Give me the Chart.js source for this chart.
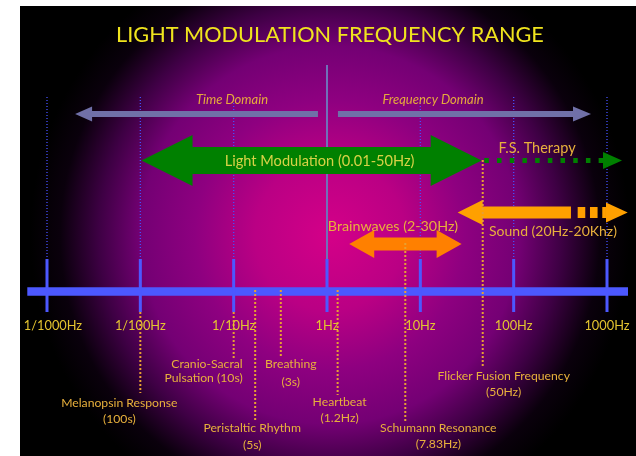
<!DOCTYPE html>
<html><head><meta charset="utf-8">
<script src="https://cdn.jsdelivr.net/npm/chart.js@4.4.1/dist/chart.umd.min.js"></script>
<style>html,body{margin:0;padding:0;background:#fff;overflow:hidden}#wrap{width:636px;height:456px}</style>
</head><body><div id="wrap"><canvas id="c" width="636" height="456"></canvas></div>
<script>
// ---------- DATA (frequencies in Hz) ----------
const title = 'LIGHT MODULATION FREQUENCY RANGE';
const tickValues = [0.001, 0.01, 0.1, 1, 10, 100, 1000];
const tickLabels = ['1/1000Hz', '1/100Hz', '1/10Hz', '1Hz', '10Hz', '100Hz', '1000Hz'];
const axisRange = [0.000615, 1679];

const domainNames = ['Time Domain', 'Frequency Domain'];
const timeDomainRange = [0.002, 0.80];
const freqDomainRange = [1.31, 674];

const lightModName = 'Light Modulation (0.01-50Hz)';
const lightModRange = [0.0103, 45.4];
const fsTherapyName = 'F.S. Therapy';
const fsTherapyRange = [48.5, 906, 1448];   // dots start, dots end, arrow tip

const brainName = 'Brainwaves (2-30Hz)';
const brainRange = [1.73, 27.7];
const soundName = 'Sound (20Hz-20Khz)';
const soundRange = [25.1, 411, 485, 975, 1667]; // tip, solid end, dots start, dots end, tip

const annotLine1 = ['Melanopsin Response', 'Cranio-Sacral', 'Peristaltic Rhythm', 'Breathing', 'Heartbeat', 'Schumann Resonance', 'Flicker Fusion Frequency'];
const annotLine2 = ['(100s)', 'Pulsation (10s)', '(5s)', '(3s)', '(1.2Hz)', '(7.83Hz)', '(50Hz)'];
const annotFreqs = [0.01, 0.1, 0.17, 0.32, 1.3, 6.9, 46.6];

// ---------- LAYOUT (rows in canvas-y units, styles) ----------
const ROW = {domain: 114, domainLabel: 100, light: 160.5, fsLabel: 148, sound: 212.5, soundLabel: 231.7,
  brain: 244, brainLabel: 226, bar: 291.5, tickTop: 259, tickBot: 312, tickLabel: 326, guideTop: 97, oneHzTop: 65};
const annotSpan = [[312, 393], [312, 358], [290, 420], [290, 358], [290, 395], [243, 421], [160, 368]];
const annotLabelDx = [-21, 9, -3, 10, 2, 33, 21];
const annotLabelY = [[402.7, 419.3], [364.3, 377.7], [427.7, 445], [364.3, 381.7], [401.7, 417.7], [428.3, 444.3], [375.7, 391.7]];
const annotAlign = ['center', 'right', 'center', 'center', 'center', 'center', 'center'];

const FONT = 'Lato, "Open Sans", sans-serif';
const BLUE = 'rgb(76,88,255)';
const GOLD = 'rgb(232,176,60)';
const ORANGE_DOT = 'rgb(232,160,50)';

function seg(xs, y1, y2) { const d = []; xs.forEach(x => { d.push({x, y: y1}, {x, y: y2}, {x, y: null}); }); return d; }
function lineDS(data, color, width, dash, order) {
  return {type: 'scatter', data, showLine: true, borderColor: color, borderWidth: width, borderDash: dash || [],
    borderCapStyle: 'butt', pointRadius: 0, clip: false, spanGaps: false, order, fill: false};
}

const guideVals = tickValues.filter(v => v !== 1);
const datasets = [
  lineDS(annotFreqs.flatMap((f, i) => [{x: f, y: annotSpan[i][0]}, {x: f, y: annotSpan[i][1]}, {x: f, y: null}]), ORANGE_DOT, 2, [2, 2], 1),
  lineDS([{x: fsTherapyRange[0], y: ROW.light}, {x: fsTherapyRange[1], y: ROW.light}], 'rgb(0,128,0)', 5, [4.5, 8.2], 2),
  lineDS([{x: soundRange[2], y: ROW.sound}, {x: soundRange[3], y: ROW.sound}], 'rgb(255,160,0)', 11, [7.6, 4.7], 2),
  lineDS(seg(tickValues, ROW.tickTop, ROW.tickBot), BLUE, 3, [], 3),
  lineDS([{x: axisRange[0], y: ROW.bar}, {x: axisRange[1], y: ROW.bar}], BLUE, 8.5, [], 4),
  lineDS(seg([1], ROW.oneHzTop, ROW.tickTop), 'rgb(112,112,185)', 2, [], 5),
  lineDS(seg(guideVals, ROW.guideTop, ROW.tickTop), 'rgb(70,80,250)', 1.3, [1, 2], 6)
];

function arrow(ctx, xL, xR, y, shaft, head, headLen, leftHead, rightHead, color) {
  const s = shaft / 2, h = head / 2;
  ctx.beginPath();
  if (leftHead) { ctx.moveTo(xL, y); ctx.lineTo(xL + headLen, y - h); ctx.lineTo(xL + headLen, y - s); } else { ctx.moveTo(xL, y - s); }
  if (rightHead) { ctx.lineTo(xR - headLen, y - s); ctx.lineTo(xR - headLen, y - h); ctx.lineTo(xR, y); ctx.lineTo(xR - headLen, y + h); ctx.lineTo(xR - headLen, y + s); }
  else { ctx.lineTo(xR, y - s); ctx.lineTo(xR, y + s); }
  if (leftHead) { ctx.lineTo(xL + headLen, y + s); ctx.lineTo(xL + headLen, y + h); } else { ctx.lineTo(xL, y + s); }
  ctx.closePath(); ctx.fillStyle = color; ctx.fill();
}
function text(ctx, str, x, y, size, color, opts) {
  opts = opts || {};
  ctx.font = (opts.italic ? 'italic ' : '') + size + 'px ' + FONT;
  ctx.fillStyle = color; ctx.textAlign = opts.align || 'center'; ctx.textBaseline = 'middle';
  ctx.fillText(str, x, y);
}

const bgPlugin = {
  id: 'bg',
  beforeDraw(chart) {
    const ctx = chart.ctx;
    ctx.save();
    ctx.fillStyle = '#fff'; ctx.fillRect(0, 0, 636, 456);
    ctx.fillStyle = '#000'; ctx.fillRect(20, 6, 616, 450);
    const g = ctx.createRadialGradient(330, 235, 0, 330, 235, 300);
    g.addColorStop(0, 'rgb(212,0,136)');
    g.addColorStop(0.25, 'rgb(186,0,132)');
    g.addColorStop(0.45, 'rgb(142,0,128)');
    g.addColorStop(0.63, 'rgb(116,0,116)');
    g.addColorStop(0.77, 'rgb(62,0,68)');
    g.addColorStop(0.9, 'rgb(10,0,12)');
    g.addColorStop(1, 'rgb(0,0,0)');
    ctx.beginPath(); ctx.rect(20, 6, 616, 450); ctx.clip();
    ctx.fillStyle = g; ctx.fillRect(20, 6, 616, 450);
    ctx.restore();
  },
  afterDatasetDraw(chart, args) {
    // draw arrows right after the axis bar layer, so annotation lines sit on top
    if (args.index !== 4) return;
    const ctx = chart.ctx, x = v => chart.scales.x.getPixelForValue(v);
    ctx.save();
    arrow(ctx, x(timeDomainRange[0]), x(timeDomainRange[1]), ROW.domain, 6, 15, 17, true, false, 'rgb(112,112,168)');
    arrow(ctx, x(freqDomainRange[0]), x(freqDomainRange[1]), ROW.domain, 6, 15, 18, false, true, 'rgb(112,112,168)');
    arrow(ctx, x(lightModRange[0]), x(lightModRange[1]), ROW.light, 27, 51, 51, true, true, 'rgb(0,128,0)');
    arrow(ctx, x(fsTherapyRange[1]), x(fsTherapyRange[2]), ROW.light, 0, 17, x(fsTherapyRange[2]) - x(fsTherapyRange[1]), false, true, 'rgb(0,128,0)');
    arrow(ctx, x(soundRange[0]), x(soundRange[1]), ROW.sound, 12, 25, 25, true, false, 'rgb(255,160,0)');
    arrow(ctx, x(soundRange[3]), x(soundRange[4]), ROW.sound, 0, 20, x(soundRange[4]) - x(soundRange[3]), false, true, 'rgb(255,160,0)');
    arrow(ctx, x(brainRange[0]), x(brainRange[1]), ROW.brain, 13, 28, 25, true, true, 'rgb(255,128,0)');
    ctx.restore();
  },
  afterDraw(chart) {
    const ctx = chart.ctx, x = v => chart.scales.x.getPixelForValue(v);
    ctx.save();
    text(ctx, title, 330, 35, 21.7, 'rgb(240,228,30)');
    text(ctx, domainNames[0], 232, ROW.domainLabel, 13, 'rgb(230,170,60)', {italic: true});
    text(ctx, domainNames[1], 433, ROW.domainLabel, 13, 'rgb(230,170,60)', {italic: true});
    text(ctx, lightModName, (x(lightModRange[0]) + x(lightModRange[1])) / 2 + 8, ROW.light + 0.5, 14.6, 'rgb(215,210,70)');
    text(ctx, fsTherapyName, 537, ROW.fsLabel, 14.5, GOLD);
    text(ctx, brainName, 393, ROW.brainLabel, 14.3, GOLD);
    text(ctx, soundName, 553, ROW.soundLabel, 14, GOLD);
    tickValues.forEach((v, i) => {
      const px = Math.max(x(v), 53);
      text(ctx, tickLabels[i], px, ROW.tickLabel, 12.8, 'rgb(228,196,48)');
    });
    annotFreqs.forEach((f, i) => {
      const al = annotAlign[i];
      const px = x(f) + annotLabelDx[i];
      text(ctx, annotLine1[i], px, annotLabelY[i][0], 12.2, GOLD, {align: al});
      text(ctx, annotLine2[i], px, annotLabelY[i][1], 12.2, GOLD, {align: al});
    });
    ctx.restore();
  }
};

function build() {
  new Chart(document.getElementById('c'), {
    type: 'scatter',
    data: {datasets},
    options: {
      responsive: false, animation: false, events: [], devicePixelRatio: 1,
      layout: {padding: {left: 47, right: 29, top: 0, bottom: 0}},
      plugins: {legend: {display: false}, tooltip: {enabled: false}, title: {display: false}},
      scales: {
        x: {type: 'logarithmic', min: 0.001, max: 1000, display: false},
        y: {type: 'linear', min: 0, max: 456, reverse: true, display: false}
      }
    },
    plugins: [bgPlugin]
  });
}
if (document.fonts && document.fonts.load) {
  Promise.all([document.fonts.load('12px Lato'), document.fonts.load('italic 12px Lato')]).then(build, build);
} else build();
</script></body></html>
